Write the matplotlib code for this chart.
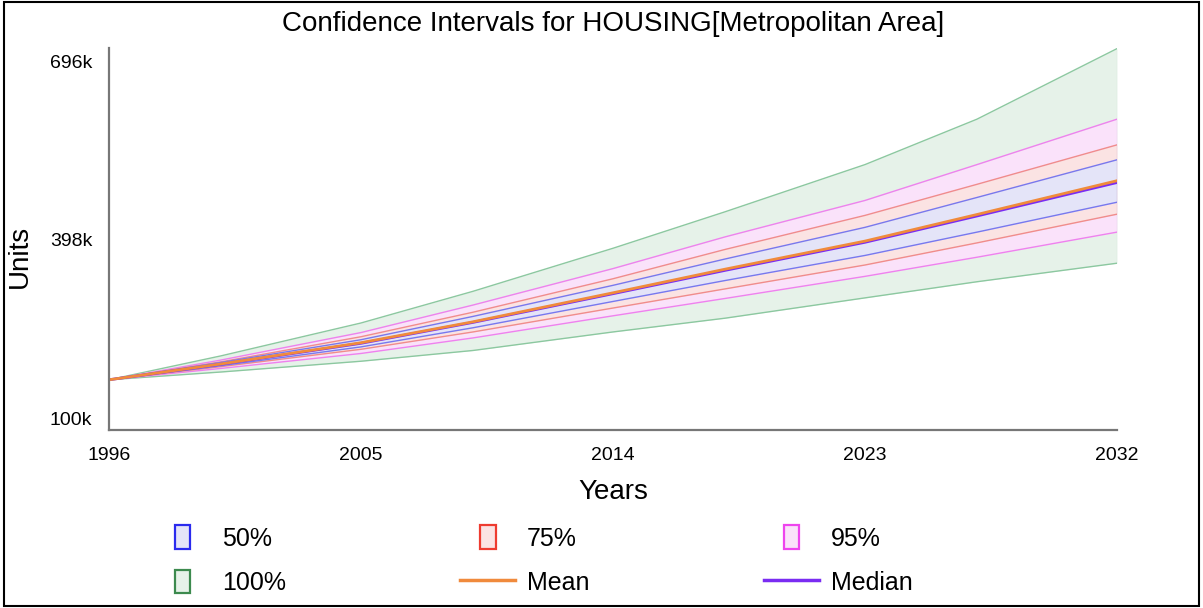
import matplotlib
matplotlib.use("Agg")
import matplotlib.pyplot as plt
from matplotlib.patches import Patch, Rectangle
from matplotlib.lines import Line2D
from matplotlib.legend_handler import HandlerPatch
from matplotlib.ticker import FuncFormatter

plt.rcParams["font.family"] = ["Liberation Sans", "DejaVu Sans"]

# projected housing units (thousands)
years = [1996, 2000, 2005, 2009, 2014, 2018, 2023, 2027, 2032]
median = [164, 190, 225, 260, 308, 347, 394, 438, 494]
mean = [164, 190.5, 226, 261, 309.5, 349, 396, 440.5, 497]
p100_hi = [164, 204, 259, 312, 384, 445, 524, 600, 718]
p100_lo = [164, 177, 195, 213, 244, 267, 301, 328, 359]
p95_hi = [164, 197, 243, 289, 350, 403, 464, 524, 600]
p95_lo = [164, 183, 208, 234, 271, 300, 337, 369, 411]
p75_hi = [164, 194, 236, 277, 333, 382, 439, 491, 557]
p75_lo = [164, 186, 215, 244, 284, 316, 356, 393, 441]
p50_hi = [164, 193, 231, 270, 322, 366, 419, 469, 532]
p50_lo = [164, 187.5, 219, 251, 295, 330, 372, 411, 461]

x_ticks = [1996, 2005, 2014, 2023, 2032]
y_ticks = [100, 398, 696]

bands = [
    ("100%", p100_lo, p100_hi, "#e6f2e9", "#8cc8a0", "#3c8a4e"),
    ("95%", p95_lo, p95_hi, "#fae2fa", "#ee82ee", "#ee44ee"),
    ("75%", p75_lo, p75_hi, "#fbe3e3", "#f08c8c", "#ee3b30"),
    ("50%", p50_lo, p50_hi, "#e4e4f8", "#7878ee", "#2a2aee"),
]
MEAN_COLOR = "#f08a3c"
MEDIAN_COLOR = "#7a2cf2"

fig = plt.figure(figsize=(12.03, 6.08), dpi=100)
ax = fig.add_axes([0.0906, 0.2928, 0.8379, 0.6282])

k = lambda v: [x * 1000 for x in v]
for label, lo, hi, fill, edge, _ in bands:
    ax.fill_between(years, k(lo), k(hi), color=fill, lw=0)
    ax.plot(years, k(hi), color=edge, lw=1)
    ax.plot(years, k(lo), color=edge, lw=1)
    ax.plot([years[-1], years[-1]], [k(lo)[-1], k(hi)[-1]], color=edge, lw=0.8, alpha=0.5)

ax.plot(years, k(median), color=MEDIAN_COLOR, lw=2)
ax.plot(years, k(mean), color=MEAN_COLOR, lw=2)

ax.set_xlim(1996, 2032)
ax.set_ylim(80000, 719000)
ax.set_xticks(x_ticks)
ax.set_yticks([v * 1000 for v in y_ticks])
ax.yaxis.set_major_formatter(FuncFormatter(lambda v, p: f"{int(round(v / 1000))}k"))
ax.tick_params(length=0, labelsize=14)
ax.tick_params(axis="x", pad=12)
ax.tick_params(axis="y", pad=12)
for s in ["top", "right"]:
    ax.spines[s].set_visible(False)
for s in ["left", "bottom"]:
    ax.spines[s].set_color("#777777")
    ax.spines[s].set_linewidth(1.6)

ax.set_title("Confidence Intervals for HOUSING[Metropolitan Area]", fontsize=20, pad=12)
ax.set_xlabel("Years", fontsize=20, labelpad=11)
fig.text(20 / 1203, 1 - 256 / 608, "Units", rotation=90, fontsize=20,
         ha="center", va="center")


class NarrowBox(HandlerPatch):
    # small square marker centred in the handle area
    def create_artists(self, legend, orig_handle, xdescent, ydescent, width, height,
                       fontsize, trans):
        w, h = 11.5, 17
        cx = -xdescent + width / 2
        cy = -ydescent + height / 2
        r = Rectangle((cx - w / 2, cy - h / 2), w, h, facecolor=orig_handle.get_facecolor(),
                      edgecolor=orig_handle.get_edgecolor(), lw=1.6, transform=trans)
        return [r]


lookup = {b[0]: b for b in bands}


def box(name):
    b = lookup[name]
    return Patch(facecolor=b[3], edgecolor=b[5], label=name)


# ordered so the 3-column legend reads row by row
handles = [
    box("50%"), box("100%"),
    box("75%"), Line2D([], [], color=MEAN_COLOR, lw=2.5, label="Mean"),
    box("95%"), Line2D([], [], color=MEDIAN_COLOR, lw=2.5, label="Median"),
]

fig.legend(handles=handles, loc="upper left", bbox_to_anchor=(155 / 1203, 1 - 526 / 608),
           ncol=3, frameon=False, fontsize=18, columnspacing=6.97, borderpad=0,
           borderaxespad=0, handlelength=2.2, handleheight=1.0, handletextpad=0.48,
           labelspacing=0.78, handler_map={Patch: NarrowBox()})

fig.patches.append(Rectangle((0.003, 0.004), 0.994, 0.992, transform=fig.transFigure,
                             fill=False, edgecolor="black", lw=1.5))

fig.savefig("out.png", dpi=100)
